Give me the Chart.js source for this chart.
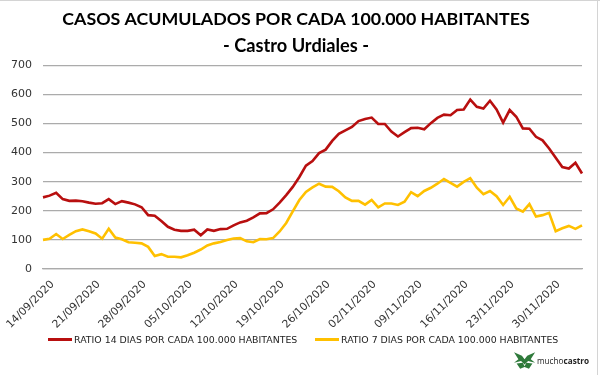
<!DOCTYPE html>
<html>
<head>
<meta charset="utf-8">
<script src="https://cdn.jsdelivr.net/npm/chart.js@4/dist/chart.umd.min.js"></script>
<style>
  html, body { margin: 0; padding: 0; background: #fff; }
  #wrap { position: relative; width: 600px; height: 375px; overflow: hidden; }
  #frameTop { position: absolute; left: 0; top: 0; width: 600px; height: 0; border-top: 1px solid #d4d4d4; }
  #frameRight { position: absolute; left: 597px; top: 0; width: 0; height: 375px; border-left: 1px solid #d4d4d4; }
  canvas { position: absolute; left: 0; top: 0; }
  #legend { position: absolute; top: 332px; left: 0; height: 14px;
            font-family: "DejaVu Sans", Verdana, sans-serif; font-size: 9.4px; color: #222; }
  .item { position: absolute; top: 0; display: flex; align-items: center; white-space: nowrap; height: 14px; }
  .swatch { width: 24px; height: 3px; margin-right: 2px; }
  #logo { position: absolute; left: 514px; top: 350px; height: 20px; display: flex; align-items: center;
          font-family: "Open Sans", "DejaVu Sans", sans-serif; font-size: 8.2px; color: #222; white-space: nowrap; }
  #logo b { font-weight: 700; }
</style>
</head>
<body>
<div id="wrap">
  <canvas id="c" width="600" height="375"></canvas>
  <div id="frameTop"></div>
  <div id="frameRight"></div>
  <div id="legend"></div>
  <div id="logo">
    <svg width="22" height="17" viewBox="0 0 25 19">
      <polygon points="0,0 9,4 12,8 15,4 24,0 19,8 24,12 16,10 12,14 8,10 0,12 5,8" fill="#2f7a3b"/>
      <polygon points="3,13 10,12 12,16 14,12 21,13 17,19 12,17 7,19" fill="#2f7a3b"/>
    </svg>
    <span style="margin-left:1px">mucho<b>castro</b></span>
  </div>
</div>
<script>
const dates = [
  "14/09/2020","15/09/2020","16/09/2020","17/09/2020","18/09/2020","19/09/2020","20/09/2020",
  "21/09/2020","22/09/2020","23/09/2020","24/09/2020","25/09/2020","26/09/2020","27/09/2020",
  "28/09/2020","29/09/2020","30/09/2020","01/10/2020","02/10/2020","03/10/2020","04/10/2020",
  "05/10/2020","06/10/2020","07/10/2020","08/10/2020","09/10/2020","10/10/2020","11/10/2020",
  "12/10/2020","13/10/2020","14/10/2020","15/10/2020","16/10/2020","17/10/2020","18/10/2020",
  "19/10/2020","20/10/2020","21/10/2020","22/10/2020","23/10/2020","24/10/2020","25/10/2020",
  "26/10/2020","27/10/2020","28/10/2020","29/10/2020","30/10/2020","31/10/2020","01/11/2020",
  "02/11/2020","03/11/2020","04/11/2020","05/11/2020","06/11/2020","07/11/2020","08/11/2020",
  "09/11/2020","10/11/2020","11/11/2020","12/11/2020","13/11/2020","14/11/2020","15/11/2020",
  "16/11/2020","17/11/2020","18/11/2020","19/11/2020","20/11/2020","21/11/2020","22/11/2020",
  "23/11/2020","24/11/2020","25/11/2020","26/11/2020","27/11/2020","28/11/2020","29/11/2020",
  "30/11/2020","01/12/2020","02/12/2020","03/12/2020","04/12/2020","05/12/2020"
];

const ratio14 = [
  246,252,262,240,234,235,233,
  228,224,226,240,223,233,228,
  222,212,185,183,165,145,135,
  131,131,135,116,136,131,137,
  138,150,160,166,177,191,192,
  205,228,254,282,316,355,371,
  398,410,440,464,476,488,508,
  515,520,498,498,472,455,470,
  484,485,480,501,519,530,528,
  546,548,582,557,551,578,548,
  503,546,523,483,482,454,442,
  414,382,350,345,365,328
];

const ratio7 = [
  100,104,120,103,117,130,136,
  130,122,104,138,108,102,92,
  90,88,76,45,51,42,42,
  40,47,56,67,81,88,93,
  100,105,106,95,92,103,102,
  106,129,158,198,237,265,280,
  293,283,282,267,246,234,234,
  221,237,212,225,225,220,231,
  264,250,268,279,293,309,296,
  283,299,312,279,257,268,250,
  220,248,208,197,223,180,185,
  193,130,140,148,138,150
];

const seriesNames = [
  "RATIO 14 DIAS POR CADA 100.000 HABITANTES",
  "RATIO 7 DIAS POR CADA 100.000 HABITANTES"
];
const titleText = "CASOS ACUMULADOS POR CADA 100.000 HABITANTES";
const subtitleText = "- Castro Urdiales -";
const yTicks = [0, 100, 200, 300, 400, 500, 600, 700];
const labelStep = 7;

const RED = "#B80F0F";
const GOLD = "#FFC000";
const GRID = "#ababab";
const seriesColors = [RED, GOLD];
const legendLeft = [48, 315];

const lg = document.getElementById("legend");
seriesNames.forEach((n, i) => {
  const d = document.createElement("div");
  d.className = "item";
  d.style.left = legendLeft[i] + "px";
  const sw = document.createElement("span");
  sw.className = "swatch";
  sw.style.background = seriesColors[i];
  const t = document.createElement("span");
  t.textContent = n;
  d.appendChild(sw); d.appendChild(t);
  lg.appendChild(d);
});

new Chart(document.getElementById("c"), {
  type: "line",
  data: {
    labels: dates,
    datasets: [
      { label: seriesNames[0], data: ratio14, borderColor: RED, backgroundColor: RED,
        borderWidth: 2.6, pointRadius: 0, tension: 0, fill: false },
      { label: seriesNames[1], data: ratio7, borderColor: GOLD, backgroundColor: GOLD,
        borderWidth: 2.6, pointRadius: 0, tension: 0, fill: false }
    ]
  },
  options: {
    responsive: false,
    animation: false,
    layout: { padding: { left: 10, right: 18, top: 0, bottom: 30 } },
    plugins: {
      title: {
        display: true, text: titleText, color: "#000",
        font: { family: "Lato, 'Open Sans', sans-serif", size: 17.8, weight: "bold" },
        padding: { top: 9, bottom: 4 }
      },
      subtitle: {
        display: true, text: subtitleText, color: "#000",
        font: { family: "Lato, 'Open Sans', sans-serif", size: 18.2, weight: "bold" },
        padding: { top: 1, bottom: 8 }
      },
      legend: { display: false },
      tooltip: { enabled: false }
    },
    scales: {
      x: {
        offset: false,
        grid: { display: false },
        border: { display: true, color: GRID, width: 1.3 },
        afterFit: (s) => { s.height = 76; s.paddingLeft = 0; s.paddingRight = 0; },
        ticks: {
          autoSkip: false, maxRotation: 45, minRotation: 45, padding: 1, labelOffset: 9.5,
          color: "#333",
          font: { family: "'DejaVu Sans', Verdana, sans-serif", size: 10.8 },
          callback: function (v, i) { return i % labelStep === 0 ? dates[i] : null; }
        }
      },
      y: {
        min: 0, max: 700,
        afterBuildTicks: (s) => { s.ticks = yTicks.map(v => ({ value: v })); },
        afterFit: (s) => { s.width = 33; },
        grid: { color: GRID, lineWidth: 1.3, drawTicks: false },
        border: { display: false },
        ticks: {
          padding: 11, color: "#333",
          font: { family: "'DejaVu Sans', Verdana, sans-serif", size: 11 }
        }
      }
    }
  }
});
</script>
</body>
</html>
